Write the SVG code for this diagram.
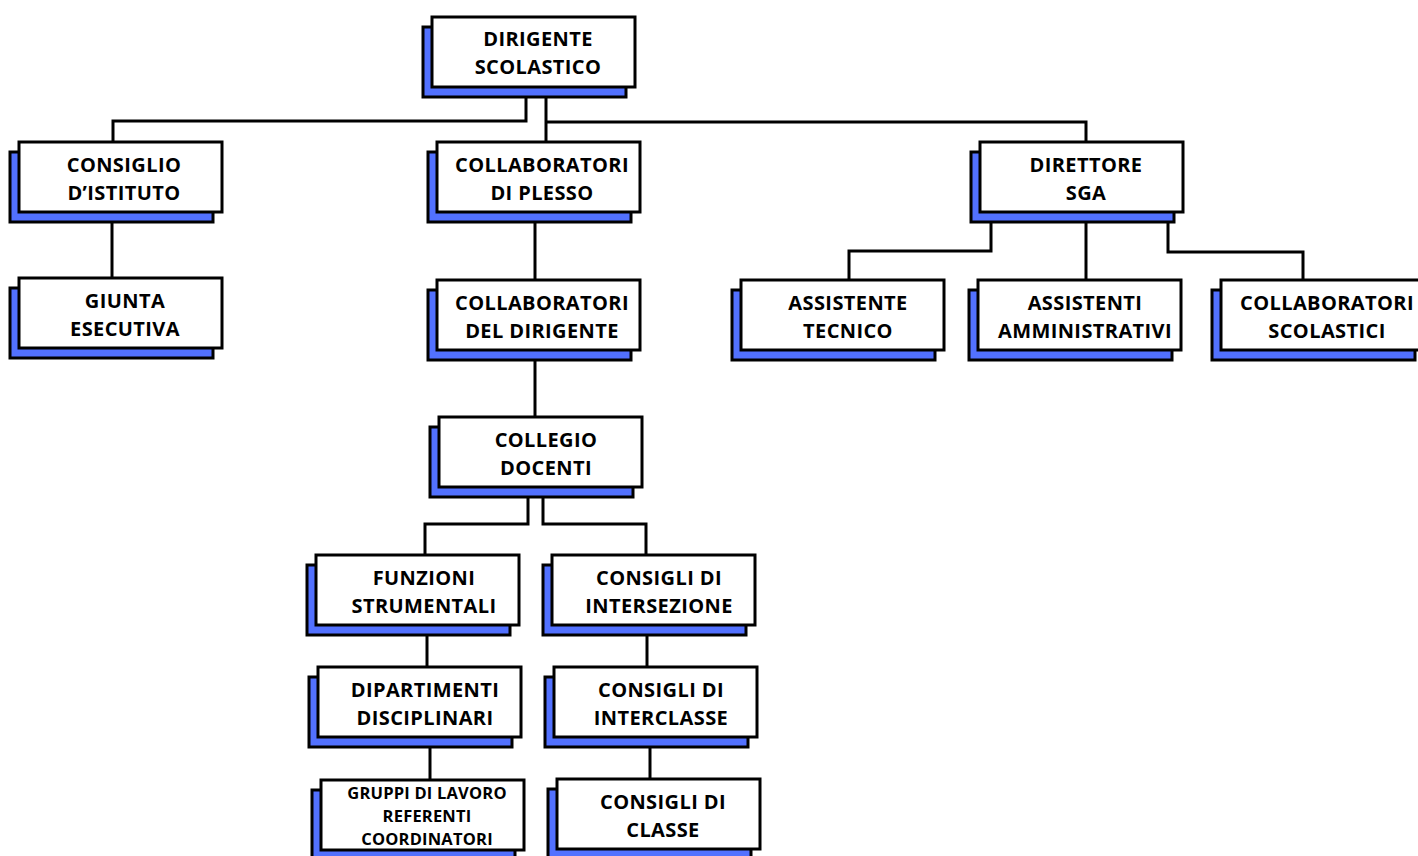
<svg xmlns="http://www.w3.org/2000/svg" width="1418" height="856" viewBox="0 0 1418 856">
<style>
.sh{fill:#5271ff;stroke:#000;stroke-width:3}
.bx{fill:#fff;stroke:#000;stroke-width:3}
.t{font-family:"Open Sans","DejaVu Sans",sans-serif;font-weight:700;font-size:20px;letter-spacing:0.4px;fill:#000;text-anchor:middle}
.s{font-size:16.5px;letter-spacing:0.2px}
.c{fill:none;stroke:#000;stroke-width:3}
</style>
<rect width="1418" height="856" fill="#fff"/>
<g id="connectors" class="c">
<path d="M526,97 V121 H113 V142"/>
<path d="M546,97 V142"/>
<path d="M546,122 H1086 V142"/>
<path d="M112,223 V278"/>
<path d="M535,222 V280"/>
<path d="M535,361 V417"/>
<path d="M528,498 V524 H425 V555"/>
<path d="M543,498 V524 H646 V555"/>
<path d="M427,636 V667"/>
<path d="M647,636 V667"/>
<path d="M430,748 V780"/>
<path d="M650,748 V779"/>
<path d="M991,223 V251 H849 V280"/>
<path d="M1086,223 V280"/>
<path d="M1168,223 V252 H1303 V280"/>
</g>
<g id="n1"><rect class="sh" x="423" y="27" width="203" height="70"/><rect class="bx" x="432" y="17" width="203" height="70"/><text class="t" x="538" y="46">DIRIGENTE</text><text class="t" x="538" y="74">SCOLASTICO</text></g>
<g id="n2"><rect class="sh" x="10" y="152" width="203" height="70"/><rect class="bx" x="19" y="142" width="203" height="70"/><text class="t" x="124" y="172">CONSIGLIO</text><text class="t" x="124" y="200">D’ISTITUTO</text></g>
<g id="n3"><rect class="sh" x="10" y="288" width="203" height="70"/><rect class="bx" x="19" y="278" width="203" height="70"/><text class="t" x="125" y="308">GIUNTA</text><text class="t" x="125" y="336">ESECUTIVA</text></g>
<g id="n4"><rect class="sh" x="428" y="152" width="203" height="70"/><rect class="bx" x="437" y="142" width="203" height="70"/><text class="t" x="542" y="172">COLLABORATORI</text><text class="t" x="542" y="200">DI PLESSO</text></g>
<g id="n5"><rect class="sh" x="428" y="290" width="203" height="70"/><rect class="bx" x="437" y="280" width="203" height="70"/><text class="t" x="542" y="310">COLLABORATORI</text><text class="t" x="542" y="338">DEL DIRIGENTE</text></g>
<g id="n6"><rect class="sh" x="430" y="427" width="203" height="70"/><rect class="bx" x="439" y="417" width="203" height="70"/><text class="t" x="546" y="447">COLLEGIO</text><text class="t" x="546" y="475">DOCENTI</text></g>
<g id="n7"><rect class="sh" x="307" y="565" width="203" height="70"/><rect class="bx" x="316" y="555" width="203" height="70"/><text class="t" x="424" y="585">FUNZIONI</text><text class="t" x="424" y="613">STRUMENTALI</text></g>
<g id="n8"><rect class="sh" x="543" y="565" width="203" height="70"/><rect class="bx" x="552" y="555" width="203" height="70"/><text class="t" x="659" y="585">CONSIGLI DI</text><text class="t" x="659" y="613">INTERSEZIONE</text></g>
<g id="n9"><rect class="sh" x="309" y="677" width="203" height="70"/><rect class="bx" x="318" y="667" width="203" height="70"/><text class="t" x="425" y="697">DIPARTIMENTI</text><text class="t" x="425" y="725">DISCIPLINARI</text></g>
<g id="n10"><rect class="sh" x="545" y="677" width="203" height="70"/><rect class="bx" x="554" y="667" width="203" height="70"/><text class="t" x="661" y="697">CONSIGLI DI</text><text class="t" x="661" y="725">INTERCLASSE</text></g>
<g id="n11"><rect class="sh" x="312" y="790" width="203" height="70"/><rect class="bx" x="321" y="780" width="203" height="70"/><text class="t s" x="427" y="799">GRUPPI DI LAVORO</text><text class="t s" x="427" y="822">REFERENTI</text><text class="t s" x="427" y="845">COORDINATORI</text></g>
<g id="n12"><rect class="sh" x="548" y="789" width="203" height="70"/><rect class="bx" x="557" y="779" width="203" height="70"/><text class="t" x="663" y="809">CONSIGLI DI</text><text class="t" x="663" y="837">CLASSE</text></g>
<g id="n13"><rect class="sh" x="971" y="152" width="203" height="70"/><rect class="bx" x="980" y="142" width="203" height="70"/><text class="t" x="1086" y="172">DIRETTORE</text><text class="t" x="1086" y="200">SGA</text></g>
<g id="n14"><rect class="sh" x="732" y="290" width="203" height="70"/><rect class="bx" x="741" y="280" width="203" height="70"/><text class="t" x="848" y="310">ASSISTENTE</text><text class="t" x="848" y="338">TECNICO</text></g>
<g id="n15"><rect class="sh" x="969" y="290" width="203" height="70"/><rect class="bx" x="978" y="280" width="203" height="70"/><text class="t" x="1085" y="310">ASSISTENTI</text><text class="t" x="1085" y="338">AMMINISTRATIVI</text></g>
<g id="n16"><rect class="sh" x="1212" y="290" width="203" height="70"/><rect class="bx" x="1221" y="280" width="203" height="70"/><text class="t" x="1327" y="310">COLLABORATORI</text><text class="t" x="1327" y="338">SCOLASTICI</text></g>
</svg>
